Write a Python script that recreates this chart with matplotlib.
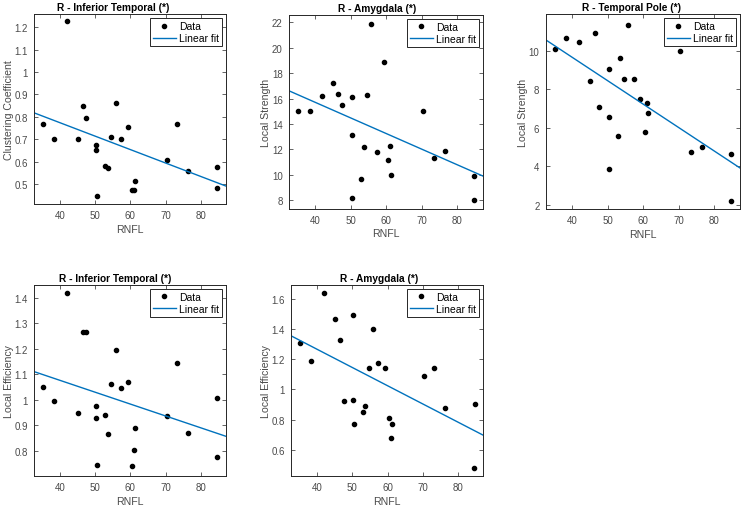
import numpy as np
import matplotlib
matplotlib.use('Agg')
import matplotlib.pyplot as plt

plt.rcParams['font.family'] = ['Liberation Sans', 'DejaVu Sans']

# RNFL values (shared across panels)
rnfl = [35.2, 38.4, 41.9, 45.0, 46.4, 47.5, 50.3, 50.3, 50.4, 52.9, 53.6, 54.6,
        55.8, 57.3, 59.2, 60.5, 61.0, 61.4, 70.4, 73.3, 76.4, 84.6, 84.7]

clust_it = [0.77, 0.70, 1.23, 0.70, 0.85, 0.795, 0.672, 0.65, 0.447, 0.578, 0.57, 0.71,
            0.86, 0.70, 0.755, 0.473, 0.473, 0.515, 0.607, 0.768, 0.558, 0.577, 0.482]
strength_amy = [15.0, 15.0, 16.2, 17.2, 16.4, 15.5, 16.1, 13.1, 8.2, 9.7, 12.2, 16.3,
                21.9, 11.8, 18.9, 11.2, 12.3, 10.0, 15.0, 11.3, 11.9, 9.9, 8.0]
strength_tp = [10.1, 10.65, 10.45, 8.4, 10.9, 7.05, 9.05, 6.55, 3.85, 5.55, 9.6, 8.5,
               11.35, 8.5, 7.5, 5.8, 7.3, 6.75, 10.0, 4.75, 5.0, 2.2, 4.65]
eff_it = [1.05, 0.993, 1.42, 0.947, 1.265, 1.265, 0.977, 0.927, 0.743, 0.94, 0.866, 1.062,
          1.197, 1.045, 1.07, 0.738, 0.802, 0.888, 0.935, 1.145, 0.87, 1.005, 0.775]
eff_amy = [1.305, 1.19, 1.64, 1.47, 1.325, 0.925, 1.495, 0.932, 0.768, 0.85, 0.89, 1.145,
           1.40, 1.175, 1.145, 0.81, 0.675, 0.768, 1.09, 1.145, 0.875, 0.48, 0.90]

# title, ylabel, data, axes rect, ylim, yticks, title x-centre
panels = [
    ('R - Inferior Temporal (*)', 'Clustering Coefficient', clust_it,
     [0.0458, 0.5949, 0.2584, 0.3755], (0.41, 1.26), [0.5, 0.6, 0.7, 0.8, 0.9, 1.0, 1.1, 1.2], 0.41),
    ('R - Amygdala (*)', 'Local Strength', strength_amy,
     [0.389, 0.5856, 0.2611, 0.3834], (7.34, 22.6), [8, 10, 12, 14, 16, 18, 20, 22], 0.455),
    ('R - Temporal Pole (*)', 'Local Strength', strength_tp,
     [0.7345, 0.585, 0.2615, 0.3854], (1.78, 11.9), [2, 4, 6, 8, 10], 0.443),
    ('R - Inferior Temporal (*)', 'Local Efficiency', eff_it,
     [0.0458, 0.0573, 0.2584, 0.378], (0.70, 1.452), [0.8, 0.9, 1.0, 1.1, 1.2, 1.3, 1.4], 0.425),
    ('R - Amygdala (*)', 'Local Efficiency', eff_amy,
     [0.3917, 0.0573, 0.2588, 0.378], (0.425, 1.695), [0.6, 0.8, 1.0, 1.2, 1.4, 1.6], 0.457),
]

xlim = (32.6, 87.2)
gray = '#4a4a4a'

fig = plt.figure(figsize=(7.43, 5.06), dpi=100)
for title, ylab, y, pos, ylim, yt, tx in panels:
    ax = fig.add_axes(pos)
    x = np.array(rnfl)
    y = np.array(y)
    ax.plot(x, y, 'o', color='black', markersize=3, label='Data')
    p = np.polyfit(x, y, 1)
    xx = np.array(xlim)
    ax.plot(xx, np.polyval(p, xx), color='#0072BD', lw=1.0, label='Linear fit')
    ax.set_xlim(xlim)
    ax.set_ylim(ylim)
    ax.set_xticks([40, 50, 60, 70, 80])
    ax.set_yticks(yt)
    ax.set_yticklabels(['%g' % v for v in yt])
    ax.tick_params(direction='in', top=True, right=True, length=3, width=0.6,
                   labelsize=7, colors=gray, labelcolor=gray, pad=4.5)
    for s in ax.spines.values():
        s.set_color('#262626')
        s.set_linewidth(0.7)
    ax.set_title(title, fontsize=7.3, fontweight='bold', pad=3, x=tx)
    ax.set_xlabel('RNFL', fontsize=7.6, color=gray, labelpad=2.5)
    ax.set_ylabel(ylab, fontsize=7.6, color=gray, labelpad=0.5)
    leg = ax.legend(loc='upper right', fontsize=7.5, fancybox=False, framealpha=1,
                    edgecolor='#262626', borderpad=0.3, handlelength=2.2,
                    handletextpad=0.3, labelspacing=0.2, borderaxespad=0.4)
    leg.get_frame().set_linewidth(0.7)

fig.savefig('out.png', dpi=100)
